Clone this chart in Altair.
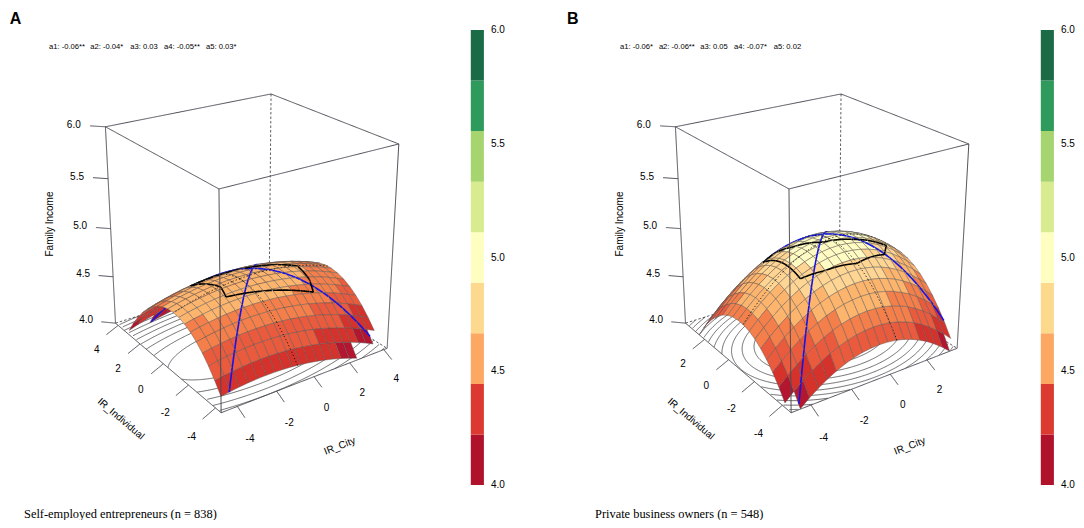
import math
import numpy as np
import altair as alt

# ------------------------------------------------------------------ chart values
panel_letters = ["A", "B"]
captions = ["Self-employed entrepreneurs (n = 838)",
            "Private business owners (n = 548)"]
coef_labels = [
    ["a1: -0.06**", "a2: -0.04*", "a3: 0.03", "a4: -0.05**", "a5: 0.03*"],
    ["a1: -0.06*", "a2: -0.06**", "a3: 0.05", "a4: -0.07*", "a5: 0.02"],
]
# response-surface parameters a1..a5 printed above each panel
rsa_a = [[-0.06, -0.04, 0.03, -0.05, 0.03],
         [-0.06, -0.06, 0.05, -0.07, 0.02]]
# surface height at IR_City = IR_Individual = 0
rsa_b0 = [4.68, 4.98]
city_lim = [[-4.8, 4.2], [-4.94, 3.71]]
indiv_lim = [[-4.4, 4.25], [-4.6, 3.7]]
city_ticks = [[-4, -2, 0, 2, 4], [-4, -2, 0, 2]]
indiv_ticks = [[-4, -2, 0, 2, 4], [-4, -2, 0, 2]]
z_lim = [4.0, 6.0]
z_ticks = [4.0, 4.5, 5.0, 5.5, 6.0]
# black outline on the surface (IR_City, IR_Individual)
hull_city = [[-2.8, -2.3, -2.5, 1.7, 2.0, 2.2, 1.2, 0.1, -1.6],
             [-2.5, -1.9, -1.6, -0.6, 0.8, 2.6, 1.8, 0.0, -1.5, -2.5, -2.5]]
hull_indiv = [[0.8, -0.8, -1.5, -2.2, -1.55, -0.4, 0.0, 0.3, 0.7],
              [0.95, 1.1, 0.15, -0.77, -1.04, -1.1, -1.9, -2.3, -2.1, -1.8, -0.7]]
contour_levels = [3.0, 3.1, 3.2, 3.3, 3.4, 3.5, 3.6, 3.7, 3.8, 3.9,
                  4.0, 4.1, 4.2, 4.3, 4.4, 4.5, 4.6, 4.7, 4.8, 4.9]
legend_breaks = [4.0, 4.222, 4.444, 4.667, 4.889, 5.111, 5.333, 5.556, 5.778, 6.0]
legend_ticks = [4.0, 4.5, 5.0, 5.5, 6.0]
axis_titles = ["IR_City", "IR_Individual", "Family Income"]

# ------------------------------------------------------------------ styles / layout
legend_colors = ["#b0122c", "#dc3a30", "#fca862", "#fdd98d", "#fefec0",
                 "#d8ec8f", "#a6d46e", "#2e9a5c", "#1b6b47"]
surf_thresholds = [4.15, 4.3, 4.45, 4.6, 4.75, 4.9, 5.05, 5.2, 5.35, 5.5, 5.65, 5.8]
surf_colors = ["#b3162e", "#d5322c", "#ea5a3d", "#f47f4a", "#fdb56e", "#fed592",
               "#fefbc3", "#eef6b1", "#d8ec8f", "#b3dd74", "#7fc466", "#3aa55a", "#1b7a46"]
GRID = 20
PANEL_DX = [0.0, 570.0]
BOX_WORLD = [(0, 0, 0), (1, 0, 0), (0, 1, 0), (0, 0, 1), (1, 0, 1), (0, 1, 1), (1, 1, 1)]
BOX_SCREEN = [(221.5, 412.7), (387.0, 348.3), (115.3, 323.2), (218.5, 189.0),
              (399.0, 144.0), (105.7, 126.7), (271.0, 94.0)]
BOX_COL = "#4f4a55"
LETTER_POS = [(15.5, 19.3), (572.7, 19.0)]
COEF_X = [[49, 90.3, 130.3, 164, 206], [620, 658.9, 700.3, 734, 773.7]]
COEF_Y = 46.7
CAPTION_POS = [(24, 514.0), (595, 514.0)]
CBAR_X = (470.8, 483.9)
CBAR_Y = (485.0, 30.0)
CBAR_LABEL_X = 491.0
FONT = "Liberation Sans"


def fit_camera():
    W = np.array(BOX_WORLD, float)
    S = np.array(BOX_SCREEN, float)
    m = S.mean(axis=0)
    k = 100.0
    N = (S - m) / k
    rows = []
    for (X, Y, Z), (x, y) in zip(W, N):
        rows.append([X, Y, Z, 1, 0, 0, 0, 0, -x * X, -x * Y, -x * Z, -x])
        rows.append([0, 0, 0, 0, X, Y, Z, 1, -y * X, -y * Y, -y * Z, -y])
    _, _, vt = np.linalg.svd(np.array(rows))
    return vt[-1].reshape(3, 4), m, k


PCAM, M0, K0 = fit_camera()


def proj(s, t, w, dx):
    h = PCAM @ np.array([s, t, w, 1.0])
    return [round(float(h[0] / h[2] * K0 + M0[0] + dx), 2),
            round(float(h[1] / h[2] * K0 + M0[1]), 2)]


def depth(s, t, w):
    return 0.484 * s + 0.672 * t - 0.689 * w


def coeffs(p):
    a1, a2, a3, a4, a5 = rsa_a[p]
    b1 = (a1 + a3) / 2
    b2 = (a1 - a3) / 2
    b4 = (a2 - a4) / 2
    b3 = ((a2 + a4) / 2 + a5) / 2
    b5 = ((a2 + a4) / 2 - a5) / 2
    return rsa_b0[p], b1, b2, b3, b4, b5


def zval(p, u, v):
    b0, b1, b2, b3, b4, b5 = coeffs(p)
    return b0 + b1 * u + b2 * v + b3 * u * u + b4 * u * v + b5 * v * v


def norm(p, u, v, z):
    s = (u - city_lim[p][0]) / (city_lim[p][1] - city_lim[p][0])
    t = (v - indiv_lim[p][0]) / (indiv_lim[p][1] - indiv_lim[p][0])
    w = (z - z_lim[0]) / (z_lim[1] - z_lim[0])
    return s, t, w


def line_feature(coords, stroke, sw, dash):
    return {"type": "Feature",
            "geometry": {"type": "LineString", "coordinates": coords},
            "properties": {"kind": "line", "stroke": stroke, "sw": sw, "dash": dash, "z": 0}}


under, surface_items, over, cbar = [], [], [], []
txt_ticks, txt_titles, txt_cbar, txt_coef, txt_letter, txt_caption = [], [], [], [], [], []

for p in range(2):
    dx = PANEL_DX[p]
    umin, umax = city_lim[p]
    vmin, vmax = indiv_lim[p]
    du = (umax - umin) / GRID
    dv = (vmax - vmin) / GRID
    C = {}
    for key, xyz in {"FB": (0, 0, 0), "RB": (1, 0, 0), "LB": (0, 1, 0), "BB": (1, 1, 0),
                     "FT": (0, 0, 1), "RT": (1, 0, 1), "LT": (0, 1, 1), "BT": (1, 1, 1)}.items():
        C[key] = proj(*xyz, dx)

    # ---- back (hidden) box edges, dashed
    for a, b in [("BT", "BB"), ("LB", "BB"), ("BB", "RB")]:
        under.append(line_feature([C[a], C[b]], BOX_COL, 0.9, [2.5, 2]))

    # ---- floor contours
    b0, b1, b2, b3, b4, b5 = coeffs(p)
    H = np.array([[b3, b4 / 2], [b4 / 2, b5]])
    x0 = np.linalg.solve(2 * H, -np.array([b1, b2]))
    zmax = zval(p, x0[0], x0[1])
    lam, Q = np.linalg.eigh(-H)
    th = np.linspace(0, 2 * math.pi, 420)
    for c in contour_levels:
        if c >= zmax:
            continue
        r = math.sqrt(zmax - c)
        E = np.stack([r / math.sqrt(lam[0]) * np.cos(th), r / math.sqrt(lam[1]) * np.sin(th)])
        pts = x0[:, None] + Q @ E
        inside = ((pts[0] >= umin) & (pts[0] <= umax) & (pts[1] >= vmin) & (pts[1] <= vmax))
        n = len(th)
        if inside.all():
            order = list(range(n))
        else:
            start = int(np.argmin(inside))
            order = [(start + k) % n for k in range(n)]
        run = []
        for k in order + [None]:
            if k is not None and inside[k]:
                run.append(proj(*norm(p, pts[0, k], pts[1, k], z_lim[0]), dx))
            else:
                if len(run) > 1:
                    under.append(line_feature(run, "#383838", 0.75, [1, 0]))
                run = []

    # ---- surface cells
    us = np.linspace(umin, umax, GRID + 1)
    vs = np.linspace(vmin, vmax, GRID + 1)
    cells = {}
    for i in range(GRID):
        for j in range(GRID):
            corners = [(us[i], vs[j]), (us[i + 1], vs[j]), (us[i + 1], vs[j + 1]), (us[i], vs[j + 1])]
            cz = [zval(p, u, v) for u, v in corners]
            if min(cz) < z_lim[0]:
                continue
            nn = [norm(p, u, v, z) for (u, v), z in zip(corners, cz)]
            ring = [proj(*q, dx) for q in nn]
            ring.append(ring[0])
            d = sum(depth(*q) for q in nn) / 4
            cells[(i, j)] = d
            surface_items.append((d, 0, {
                "type": "Feature",
                "geometry": {"type": "Polygon", "coordinates": [ring]},
                "properties": {"kind": "cell", "stroke": "#555555", "sw": 0.45,
                               "dash": [1, 0], "z": round(float(sum(cz) / 4), 4)}}))

    def surface_line(uu, vv, stroke, sw, dash):
        zz = zval(p, uu, vv)
        cur, cur_cell = [], None

        def flush():
            if cur_cell is not None and len(cur) > 1:
                surface_items.append((cells[cur_cell] - 1e-6, 1,
                                      line_feature(list(cur), stroke, sw, dash)))

        for k in range(len(uu) - 1):
            um = (uu[k] + uu[k + 1]) / 2
            vm = (vv[k] + vv[k + 1]) / 2
            ci = min(GRID - 1, max(0, int((um - umin) / du)))
            cj = min(GRID - 1, max(0, int((vm - vmin) / dv)))
            ok = zz[k] >= z_lim[0] and zz[k + 1] >= z_lim[0] and (ci, cj) in cells
            if not ok:
                flush()
                cur, cur_cell = [], None
                continue
            if (ci, cj) != cur_cell:
                flush()
                cur_cell = (ci, cj)
                cur = [proj(*norm(p, uu[k], vv[k], zz[k]), dx)]
            cur.append(proj(*norm(p, uu[k + 1], vv[k + 1], zz[k + 1]), dx))
        flush()

    def straight(p0, d):
        lo, hi = -1e9, 1e9
        for k, lim in enumerate([city_lim[p], indiv_lim[p]]):
            if abs(d[k]) < 1e-12:
                continue
            t1 = (lim[0] - p0[k]) / d[k]
            t2 = (lim[1] - p0[k]) / d[k]
            lo = max(lo, min(t1, t2))
            hi = min(hi, max(t1, t2))
        tt = np.linspace(lo, hi, 320)
        return p0[0] + tt * d[0], p0[1] + tt * d[1]

    # line of congruence / incongruence (blue)
    for d in [(1.0, 1.0), (1.0, -1.0)]:
        uu, vv = straight((0.0, 0.0), d)
        surface_line(uu, vv, "#1414e6", 1.6, [1, 0])
    # principal axes (dotted)
    for k in range(2):
        uu, vv = straight((x0[0], x0[1]), (Q[0, k], Q[1, k]))
        surface_line(uu, vv, "#111111", 1.0, [1.2, 2.2])
    # outline
    hu = list(hull_city[p]) + [hull_city[p][0]]
    hv = list(hull_indiv[p]) + [hull_indiv[p][0]]
    for k in range(len(hu) - 1):
        uu = np.linspace(hu[k], hu[k + 1], 40)
        vv = np.linspace(hv[k], hv[k + 1], 40)
        surface_line(uu, vv, "#000000", 1.6, [1, 0])

    # ---- front box edges and ticks
    for a, b in [("LT", "BT"), ("BT", "RT"), ("RT", "FT"), ("FT", "LT"),
                 ("LT", "LB"), ("FT", "FB"), ("RT", "RB"), ("LB", "FB"), ("FB", "RB")]:
        over.append(line_feature([C[a], C[b]], BOX_COL, 1.0, [1, 0]))
    for zt in z_ticks:
        w = (zt - z_lim[0]) / (z_lim[1] - z_lim[0])
        over.append(line_feature([proj(0, 1, w, dx), proj(-0.055, 1.055, w, dx)], BOX_COL, 1.0, [1, 0]))
        x, y = proj(-0.114, 1.114, w, dx)
        txt_ticks.append({"lon": x, "lat": y, "label": f"{zt:.1f}", "ang": 0})
    for ct in city_ticks[p]:
        s = (ct - umin) / (umax - umin)
        over.append(line_feature([proj(s, 0, 0, dx), proj(s, -0.06, -0.025, dx)], BOX_COL, 1.0, [1, 0]))
        x, y = proj(s, -0.10, -0.11, dx)
        txt_ticks.append({"lon": x, "lat": y, "label": str(ct), "ang": 0})
    for it in indiv_ticks[p]:
        t = (it - vmin) / (vmax - vmin)
        over.append(line_feature([proj(0, t, 0, dx), proj(-0.07, t, -0.03, dx)], BOX_COL, 1.0, [1, 0]))
        x, y = proj(-0.13, t, -0.095, dx)
        txt_ticks.append({"lon": x, "lat": y, "label": str(it), "ang": 0})

    # axis titles
    ang_city = math.degrees(math.atan2(C["RB"][1] - C["FB"][1], C["RB"][0] - C["FB"][0])) % 360
    ang_ind = math.degrees(math.atan2(C["FB"][1] - C["LB"][1], C["FB"][0] - C["LB"][0])) % 360
    x, y = proj(0.45, -0.3, -0.17, dx)
    txt_titles.append({"lon": x, "lat": y, "label": axis_titles[0], "ang": round(ang_city, 1)})
    x, y = proj(-0.25, 0.5, -0.2, dx)
    txt_titles.append({"lon": x, "lat": y, "label": axis_titles[1], "ang": round(ang_ind, 1)})
    x, y = proj(-0.227, 1.227, 0.5, dx)
    txt_titles.append({"lon": x, "lat": y, "label": axis_titles[2], "ang": 270})

    # colour bar
    def ybar(v):
        return CBAR_Y[0] + (v - legend_breaks[0]) / (legend_breaks[-1] - legend_breaks[0]) * (CBAR_Y[1] - CBAR_Y[0])

    for k in range(len(legend_breaks) - 1):
        y0, y1 = ybar(legend_breaks[k]), ybar(legend_breaks[k + 1])
        x0b, x1b = CBAR_X[0] + dx, CBAR_X[1] + dx
        cbar.append({"type": "Feature",
                     "geometry": {"type": "Polygon", "coordinates": [[[x0b, y0], [x1b, y0], [x1b, y1], [x0b, y1], [x0b, y0]]]},
                     "properties": {"mid": (legend_breaks[k] + legend_breaks[k + 1]) / 2}})
    for v in legend_ticks:
        txt_cbar.append({"lon": CBAR_LABEL_X + dx, "lat": round(ybar(v), 2), "label": f"{v:.1f}", "ang": 0})

    for k, lab in enumerate(coef_labels[p]):
        txt_coef.append({"lon": COEF_X[p][k], "lat": COEF_Y, "label": lab, "ang": 0})
    txt_letter.append({"lon": LETTER_POS[p][0], "lat": LETTER_POS[p][1], "label": panel_letters[p], "ang": 0})
    txt_caption.append({"lon": CAPTION_POS[p][0], "lat": CAPTION_POS[p][1], "label": captions[p], "ang": 0})

surface_items.sort(key=lambda it: (-it[0], it[1]))
surface_feats = [it[2] for it in surface_items]

PROJ = dict(type="identity", scale=1, translate=[-8, -8])


def line_layer(feats):
    return alt.Chart(alt.Data(values=feats)).mark_geoshape(filled=False).encode(
        stroke=alt.Stroke("properties.stroke:N", scale=None),
        strokeWidth=alt.StrokeWidth("properties.sw:Q", scale=None),
        strokeDash=alt.StrokeDash("properties.dash:N", scale=None),
    ).project(**PROJ)


surface_layer = alt.Chart(alt.Data(values=surface_feats)).mark_geoshape().encode(
    fill=alt.condition(
        "datum.properties.kind == 'cell'",
        alt.Fill("properties.z:Q",
                 scale=alt.Scale(type="threshold", domain=surf_thresholds, range=surf_colors),
                 legend=None),
        alt.value("transparent")),
    stroke=alt.Stroke("properties.stroke:N", scale=None),
    strokeWidth=alt.StrokeWidth("properties.sw:Q", scale=None),
    strokeDash=alt.StrokeDash("properties.dash:N", scale=None),
).project(**PROJ)

cbar_layer = alt.Chart(alt.Data(values=cbar)).mark_geoshape(strokeWidth=0).encode(
    color=alt.Color("properties.mid:Q",
                    scale=alt.Scale(type="threshold", domain=legend_breaks[1:-1], range=legend_colors),
                    legend=None)
).project(**PROJ)


def text_layer(rows, **kw):
    return alt.Chart(alt.Data(values=rows)).mark_text(baseline="middle", color="#000000", **kw).encode(
        longitude="lon:Q", latitude="lat:Q", text="label:N",
        angle=alt.Angle("ang:Q", scale=None),
    ).project(**PROJ)


chart = alt.layer(
    line_layer(under),
    surface_layer,
    line_layer(over),
    cbar_layer,
    text_layer(txt_ticks, font=FONT, fontSize=10, align="center"),
    text_layer(txt_titles, font=FONT, fontSize=10, align="center"),
    text_layer(txt_cbar, font=FONT, fontSize=10, align="left"),
    text_layer(txt_coef, font=FONT, fontSize=7.6, align="left"),
    text_layer(txt_letter, font=FONT, fontSize=16, fontWeight="bold", align="center"),
    text_layer(txt_caption, font="Liberation Serif", fontSize=12.4, align="left"),
).resolve_scale(fill="independent", color="independent").properties(
    width=1068, height=512, padding=0, autosize=alt.AutoSizeParams(type="none")
).configure_view(strokeWidth=0)

chart.save("out.html", embed_options={"renderer": "svg", "actions": False})
